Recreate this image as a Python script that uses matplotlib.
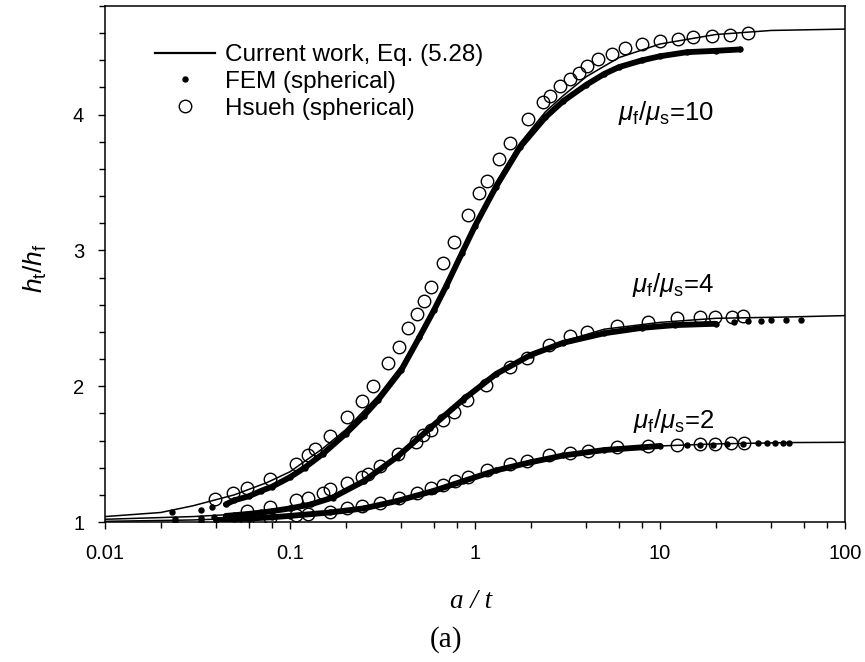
import numpy as np
import matplotlib
matplotlib.use('Agg')
import matplotlib.pyplot as plt
from matplotlib.lines import Line2D
from matplotlib.ticker import FixedLocator, NullFormatter, MultipleLocator

plt.rcParams['font.family'] = ['Liberation Sans', 'DejaVu Sans']
plt.rcParams['mathtext.fontset'] = 'custom'
plt.rcParams['mathtext.it'] = 'Liberation Sans:italic'
plt.rcParams['mathtext.rm'] = 'Liberation Sans'

# ---------------- data ----------------
# Current work, Eq. (5.28)
cw10_x = [0.01, 0.02, 0.03, 0.05, 0.075, 0.1, 0.15, 0.2, 0.3, 0.4, 0.5, 0.6, 0.7, 0.85, 1.0,
          1.3, 1.75, 2.4, 3.0, 4.0, 6.0, 10, 20, 40, 100]
cw10_y = [1.04, 1.07, 1.12, 1.20, 1.29, 1.37, 1.54, 1.68, 1.93, 2.15, 2.38, 2.58, 2.76, 3.00, 3.20,
          3.50, 3.79, 4.02, 4.14, 4.28, 4.42, 4.52, 4.59, 4.62, 4.63]
cw4_x = [0.01, 0.03, 0.075, 0.1, 0.171, 0.25, 0.38, 0.57, 0.86, 1.31, 1.98, 3.0, 5.0, 10, 20, 50, 100]
cw4_y = [1.02, 1.04, 1.07, 1.09, 1.18, 1.31, 1.49, 1.70, 1.90, 2.08, 2.22, 2.33, 2.42, 2.47, 2.50, 2.51, 2.52]
cw2_x = [0.01, 0.03, 0.06, 0.1, 0.164, 0.25, 0.38, 0.6, 0.86, 1.3, 1.98, 3.0, 5.0, 10, 20, 50, 100]
cw2_y = [1.005, 1.015, 1.03, 1.045, 1.07, 1.10, 1.16, 1.23, 1.31, 1.38, 1.44, 1.49, 1.53, 1.56, 1.575, 1.585, 1.587]

# FEM (spherical): dense band and scattered points
fem10_x = [0.045, 0.05, 0.06, 0.07, 0.08, 0.1, 0.12, 0.15, 0.2, 0.25, 0.3, 0.4, 0.5, 0.6, 0.7, 0.85,
           1.0, 1.3, 1.75, 2.4, 3.0, 4.0, 5.0, 6.0, 8.0, 10, 14, 20, 27]
fem10_y = [1.13, 1.16, 1.19, 1.23, 1.26, 1.33, 1.40, 1.50, 1.65, 1.78, 1.90, 2.12, 2.36, 2.56, 2.74, 2.98,
           3.18, 3.47, 3.76, 3.98, 4.10, 4.22, 4.30, 4.35, 4.40, 4.43, 4.46, 4.47, 4.48]
fem10_sx = [0.023, 0.033, 0.038]
fem10_sy = [1.07, 1.09, 1.11]
fem4_x = [0.045, 0.05, 0.06, 0.07, 0.08, 0.1, 0.13, 0.17, 0.25, 0.38, 0.57, 0.86, 1.3, 2.0, 3.0,
          5.0, 8.0, 12, 20]
fem4_y = [1.045, 1.05, 1.06, 1.07, 1.08, 1.10, 1.13, 1.18, 1.30, 1.48, 1.69, 1.90, 2.09, 2.23, 2.32,
          2.39, 2.43, 2.45, 2.46]
fem4_sx = [0.024, 0.033, 0.039, 25, 30, 35, 40, 48, 58]
fem4_sy = [1.02, 1.03, 1.04, 2.47, 2.48, 2.48, 2.49, 2.49, 2.49]
fem2_x = [0.04, 0.05, 0.06, 0.08, 0.1, 0.164, 0.25, 0.38, 0.6, 0.86, 1.3, 2.0, 3.0, 5.0, 8.0, 10]
fem2_y = [1.015, 1.02, 1.025, 1.035, 1.045, 1.07, 1.10, 1.155, 1.23, 1.30, 1.38, 1.44, 1.49, 1.53, 1.55, 1.56]
fem2_sx = [0.024, 0.033, 14, 16.5, 19.4, 23, 28, 34, 38, 42, 46, 50]
fem2_sy = [1.005, 1.01, 1.565, 1.57, 1.57, 1.575, 1.575, 1.58, 1.58, 1.58, 1.58, 1.58]

# Hsueh (spherical)
hs10_x = [0.0393, 0.0492, 0.0586, 0.078, 0.108, 0.125, 0.136, 0.164, 0.203, 0.246, 0.281, 0.339,
          0.388, 0.434, 0.486, 0.530, 0.578, 0.672, 0.770, 0.916, 1.05, 1.16, 1.35, 1.55, 1.93,
          2.33, 2.54, 2.88, 3.26, 3.65, 4.03, 4.62, 5.5, 6.5, 8.0, 10, 12.5, 15, 19, 24, 30]
hs10_y = [1.17, 1.21, 1.25, 1.32, 1.43, 1.49, 1.54, 1.63, 1.77, 1.89, 2.00, 2.17,
          2.29, 2.43, 2.53, 2.63, 2.73, 2.91, 3.06, 3.26, 3.42, 3.51, 3.67, 3.79, 3.97,
          4.09, 4.14, 4.21, 4.26, 4.31, 4.36, 4.41, 4.45, 4.49, 4.52, 4.54, 4.56, 4.57, 4.58, 4.59, 4.60]
hs4_x = [0.0586, 0.078, 0.108, 0.125, 0.150, 0.164, 0.203, 0.246, 0.264, 0.305, 0.383, 0.479, 0.524,
         0.577, 0.670, 0.770, 0.904, 1.15, 1.55, 1.91, 2.5, 3.26, 4.03, 5.86, 8.61, 12.4, 16.4,
         19.8, 24.5, 28.1]
hs4_y = [1.08, 1.11, 1.16, 1.18, 1.21, 1.24, 1.29, 1.33, 1.35, 1.41, 1.50, 1.59, 1.64,
         1.68, 1.75, 1.81, 1.90, 2.01, 2.14, 2.21, 2.30, 2.37, 2.40, 2.44, 2.47, 2.50, 2.51,
         2.51, 2.51, 2.52]
hs2_x = [0.0586, 0.078, 0.108, 0.125, 0.164, 0.203, 0.246, 0.305, 0.388, 0.486, 0.58, 0.67, 0.78,
         0.92, 1.16, 1.55, 1.91, 2.5, 3.26, 4.1, 5.86, 8.6, 12.4, 16.4, 19.8, 24.2, 28.6]
hs2_y = [1.01, 1.03, 1.05, 1.06, 1.075, 1.10, 1.12, 1.14, 1.18, 1.21, 1.25, 1.27, 1.30,
         1.33, 1.38, 1.43, 1.45, 1.49, 1.51, 1.52, 1.55, 1.56, 1.57, 1.575, 1.575, 1.58, 1.58]

ratio_labels = ["10", "4", "2"]
x_ticks = [0.01, 0.1, 1, 10, 100]
x_tick_labels = ["0.01", "0.1", "1", "10", "100"]
y_ticks = [1, 2, 3, 4]

# ---------------- figure ----------------
W, H = 865, 662
fig = plt.figure(figsize=(W / 100, H / 100), dpi=100)
ax = fig.add_axes([105 / W, 1 - 522 / H, 740 / W, 516 / H])

fem_band = dict(color='black', lw=4.2, solid_capstyle='round', zorder=2)
fem_dot = dict(color='black', ls='none', marker='o', ms=3.6, zorder=2)
hs_style = dict(ls='none', marker='o', ms=9, mfc='none', mec='black', mew=1.0, zorder=4)
cw_style = dict(color='black', lw=1.1, zorder=3)

for fx, fy, sx, sy in [(fem10_x, fem10_y, fem10_sx, fem10_sy),
                       (fem4_x, fem4_y, fem4_sx, fem4_sy),
                       (fem2_x, fem2_y, fem2_sx, fem2_sy)]:
    ax.plot(fx, fy, **fem_band)
    ax.plot(fx, fy, **fem_dot)
    ax.plot(sx, sy, **fem_dot)

for cx, cy in [(cw10_x, cw10_y), (cw4_x, cw4_y), (cw2_x, cw2_y)]:
    ax.plot(cx, cy, **cw_style)

for hx, hy in [(hs10_x, hs10_y), (hs4_x, hs4_y), (hs2_x, hs2_y)]:
    ax.plot(hx, hy, **hs_style)

ax.set_xscale('log')
ax.set_xlim(0.01, 100)
ax.set_ylim(1, 4.8)

ax.xaxis.set_major_locator(FixedLocator(x_ticks))
ax.set_xticklabels(x_tick_labels)
minor = [m * 10.0 ** e for e in range(-2, 2) for m in (2, 4, 6, 8)]
ax.xaxis.set_minor_locator(FixedLocator(minor))
ax.xaxis.set_minor_formatter(NullFormatter())
ax.yaxis.set_major_locator(FixedLocator(y_ticks))
ax.yaxis.set_minor_locator(MultipleLocator(0.2))

ax.tick_params(which='both', direction='out', top=False, right=False, width=1.0, colors='black')
ax.tick_params(which='major', length=5, labelsize=14.5)
ax.tick_params(which='minor', length=4.5)
ax.tick_params(axis='x', which='major', pad=11)
ax.tick_params(axis='y', which='major', pad=10)
for s in ax.spines.values():
    s.set_linewidth(1.1)

# axis labels
fig.text(471 / W, 1 - 602 / H, "a / t", family='Liberation Serif', style='italic',
         fontsize=19.5, ha='center', va='center')
fig.text(446 / W, 1 - 640 / H, "(a)", family='Liberation Serif', fontsize=21,
         ha='center', va='center')
fig.text(35 / W, 1 - 268 / H, r"$h_\mathrm{t}/h_\mathrm{f}$", fontsize=19, rotation=90,
         ha='center', va='center')

# ratio annotations
for lab, xf, yf in zip(ratio_labels, [0.693, 0.712, 0.7135], [0.78, 0.446, 0.182]):
    ax.text(xf, yf, r"$\mu_\mathrm{f}/\mu_\mathrm{s}$=" + lab, transform=ax.transAxes,
            fontsize=18.5, ha='left', va='baseline')

# legend
handles = [Line2D([], [], color='black', lw=1.6),
           Line2D([], [], **fem_dot),
           Line2D([], [], **hs_style)]
labels = ["Current work, Eq. (5.28)", "FEM (spherical)", "Hsueh (spherical)"]
ax.legend(handles, labels, loc='upper left', bbox_to_anchor=(155 / W, 1 - 44 / H),
          bbox_transform=fig.transFigure, frameon=False, fontsize=17.5,
          handlelength=2.45, handletextpad=0.42, labelspacing=0.2, borderpad=0,
          borderaxespad=0)

fig.savefig('out.png', dpi=100)
